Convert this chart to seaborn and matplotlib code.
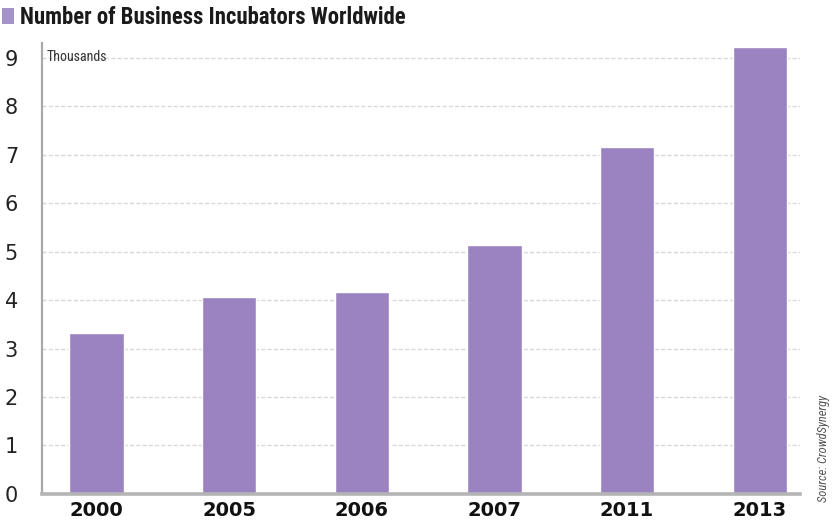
import matplotlib
matplotlib.use("Agg")
import matplotlib.pyplot as plt
import seaborn as sns
import pandas as pd
from matplotlib.patches import Rectangle

years = ["2000", "2005", "2006", "2007", "2011", "2013"]
incubators_thousands = [3.33, 4.06, 4.16, 5.13, 7.15, 9.23]
y_ticks = [0, 1, 2, 3, 4, 5, 6, 7, 8, 9]

title_text = "Number of Business Incubators Worldwide"
unit_text = "Thousands"
source_text = "Source: CrowdSynergy"

df = pd.DataFrame({"year": years, "value": incubators_thousands})

sns.set_theme(style="white")
plt.rcParams["font.family"] = ["Liberation Sans Narrow", "DejaVu Sans Condensed",
                               "Roboto Condensed", "DejaVu Sans"]

bar_color = "#9b83c2"

fig = plt.figure(figsize=(8.39, 5.23), dpi=100)
ax = fig.add_axes([0.050, 0.0555, 0.903, 0.862])

sns.barplot(data=df, x="year", y="value", color=bar_color, width=0.41,
            saturation=1, ax=ax, zorder=3)

ax.set_xlim(-0.41, 5.3)
ax.set_ylim(0, 9.3)
ax.set_yticks(y_ticks)
ax.set_yticklabels([str(t) for t in y_ticks], fontsize=15, color="#222222",
                   family=["DejaVu Sans"])
ax.set_xticks(range(len(years)))
ax.set_xticklabels(years, fontsize=14, fontweight="bold", color="#111111",
                   family=["DejaVu Sans"])
ax.tick_params(axis="y", length=0, pad=22)
ax.tick_params(axis="x", length=0, pad=5)
for lbl in ax.get_yticklabels():
    lbl.set_horizontalalignment("center")
ax.set_xlabel("")
ax.set_ylabel("")

for t in y_ticks[1:]:
    ax.axhline(t, color="#d9d9d9", lw=1.0, ls=(0, (3, 1.5)), zorder=1)

for side in ["top", "right"]:
    ax.spines[side].set_visible(False)
ax.spines["left"].set_color("#a8a8a8")
ax.spines["left"].set_linewidth(1.6)
ax.spines["bottom"].set_color("#b4b4b4")
ax.spines["bottom"].set_linewidth(2.6)
ax.spines["left"].set_zorder(4)
ax.spines["bottom"].set_zorder(4)

ax.text(0.006, 0.985, unit_text, transform=ax.transAxes, fontsize=10,
        color="#333333", ha="left", va="top")

# title with colored square
fig.patches.append(Rectangle((2 / 839, 1 - 24 / 523), 12 / 839, 16 / 523,
                             transform=fig.transFigure, facecolor="#a592c8",
                             edgecolor="none"))
fig.text(20 / 839, 1 - 17 / 523, title_text, fontsize=16.4, fontweight="bold",
         color="#1a1a1a", ha="left", va="center")

fig.text(824 / 839, 1 - 448 / 523, source_text, rotation=90, fontsize=9,
         style="italic", color="#555555", ha="center", va="center")

fig.savefig("out.png", dpi=100)
